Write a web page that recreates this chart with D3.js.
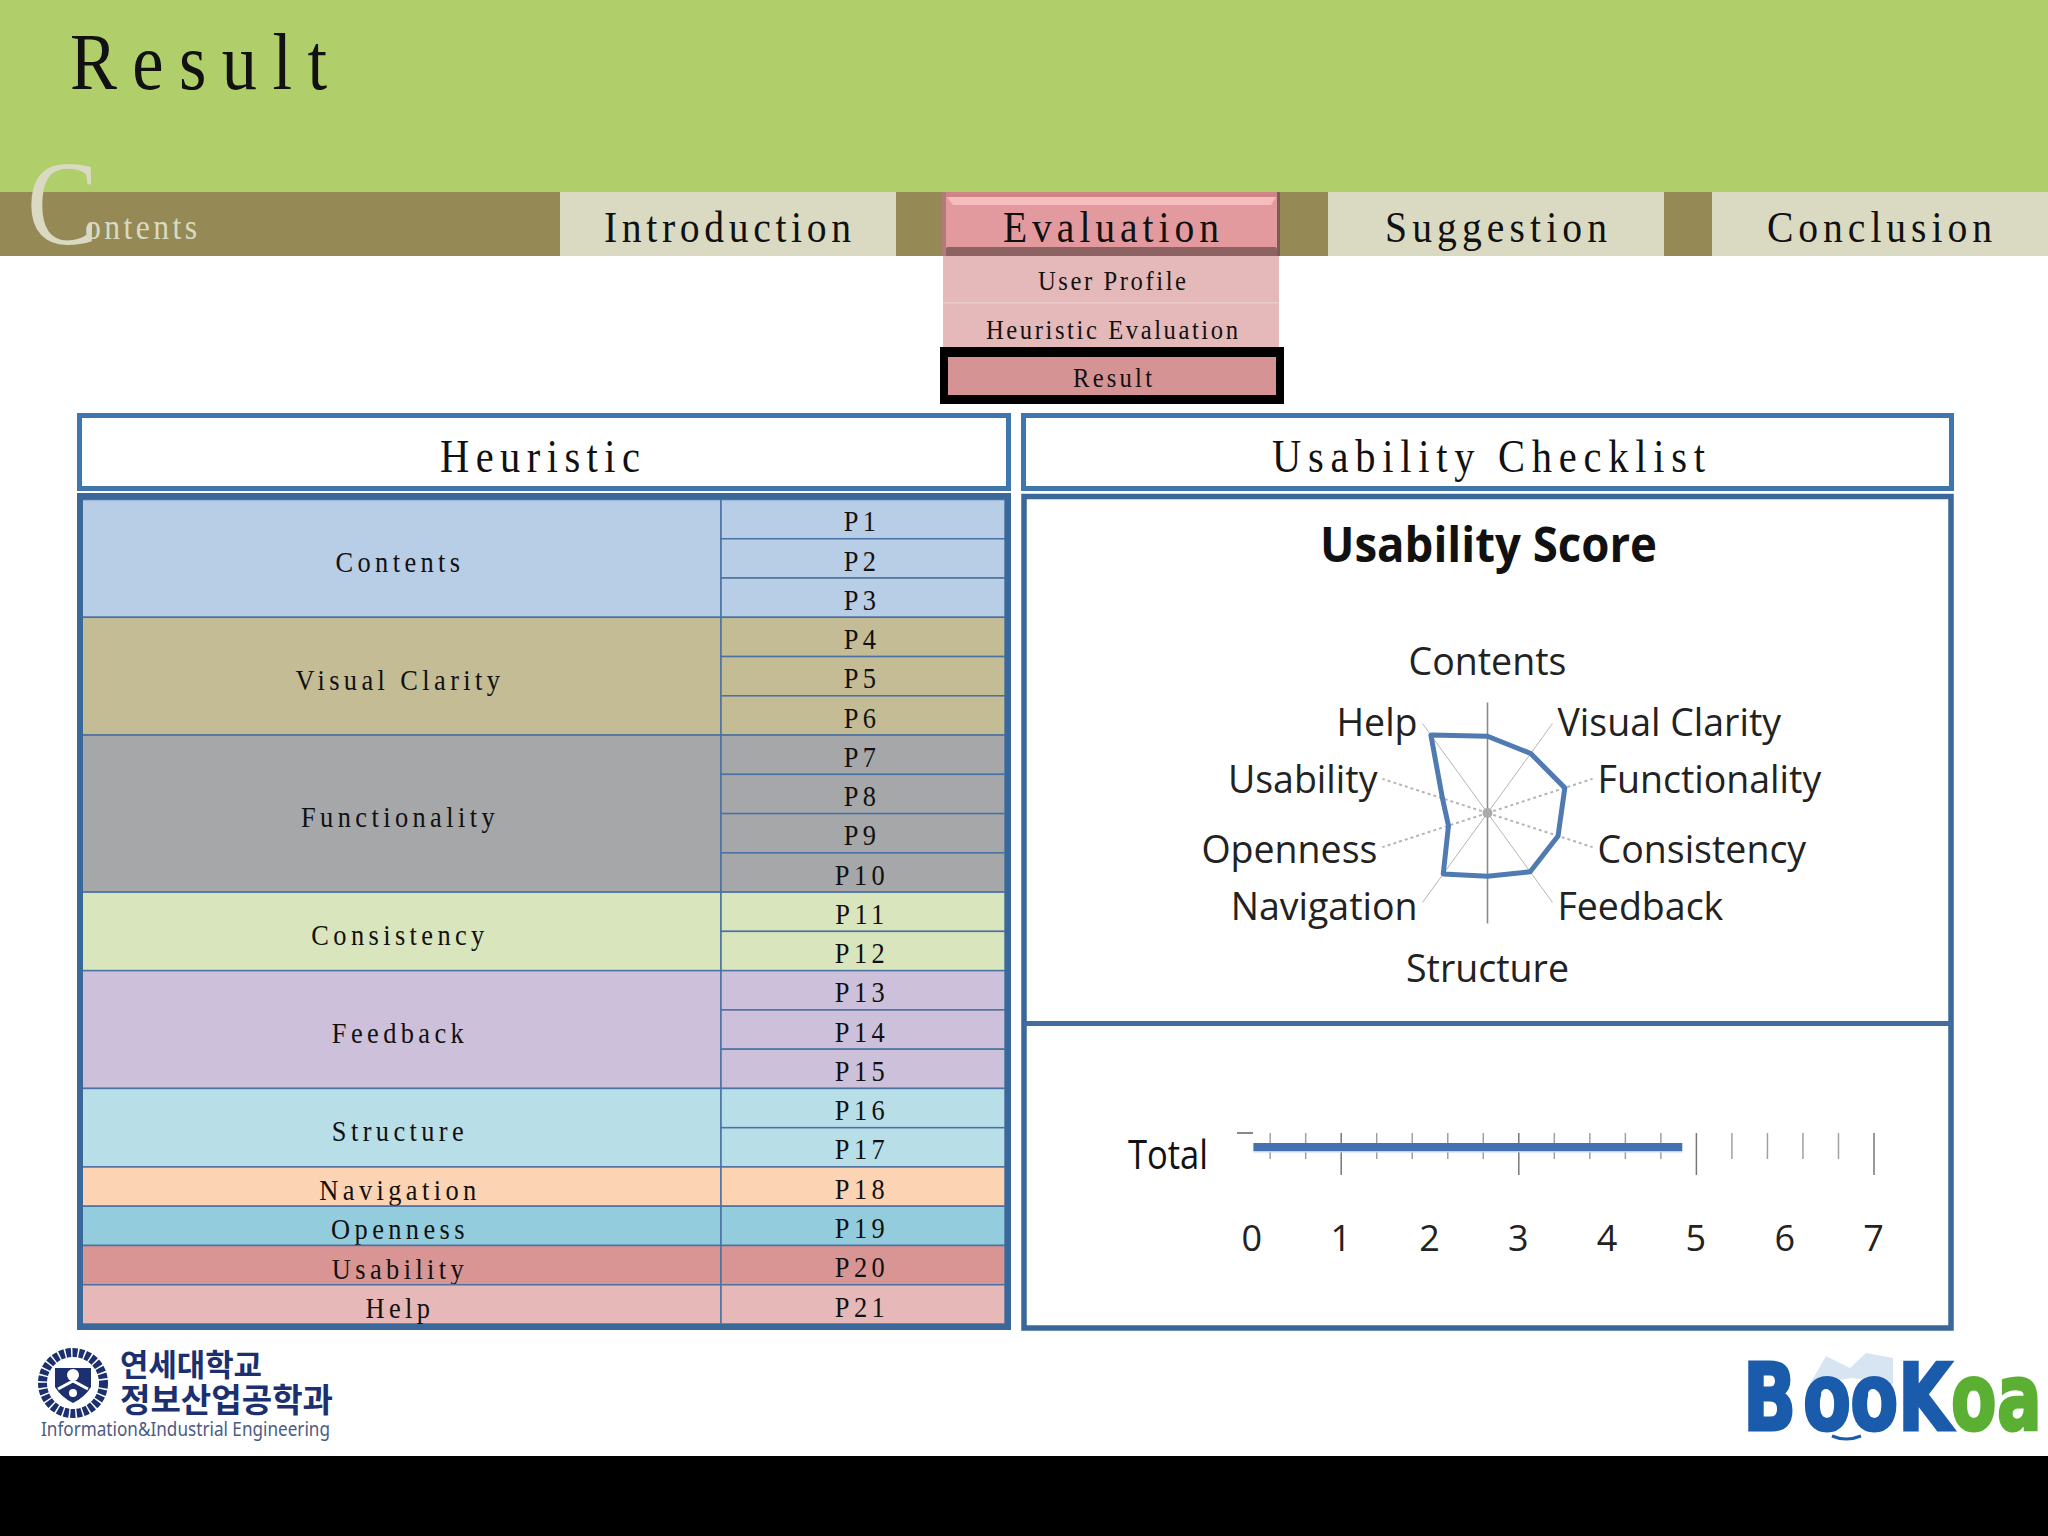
<!DOCTYPE html>
<html>
<head>
<meta charset="utf-8">
<script src="https://d3js.org/d3.v7.min.js"></script>
<style>
  body { margin: 0; background: #fff; }
  svg { display: block; }
</style>
</head>
<body>
<svg id="slide" width="2048" height="1536"></svg>
<script>
// heuristic table
var groupNames = ["Contents", "Visual Clarity", "Functionality", "Consistency", "Feedback", "Structure", "Navigation", "Openness", "Usability", "Help"];
var groupCounts = [3, 3, 4, 2, 3, 2, 1, 1, 1, 1];
var groupColors = ["#b8cde6", "#c4bc95", "#a6a7a9", "#d9e5bd", "#ccc0da", "#b8dee8", "#fcd4b4", "#93cddd", "#d99594", "#e6b8b7"];
var rowLabels = ["P1", "P2", "P3", "P4", "P5", "P6", "P7", "P8", "P9", "P10", "P11", "P12", "P13", "P14", "P15", "P16", "P17", "P18", "P19", "P20", "P21"];

// radar chart, same order as groupNames
var radarValues = [4.86, 4.66, 5.15, 4.7, 4.6, 4.0, 4.77, 2.6, 3.0, 6.1];
var radarMax = 7;

// bar chart
var barLabel = "Total";
var barValue = 4.83;
var barTicks = [0, 1, 2, 3, 4, 5, 6, 7];
var minorTicks = [0.2, 0.6, 1.4, 1.8, 2.2, 2.6, 3.4, 3.8, 4.2, 4.6, 5.4, 5.8, 6.2, 6.6];
var majorTicks = [1, 3, 5, 7];

var SERIF = "'Liberation Serif', serif";
var SANS = "'Open Sans', sans-serif";
var NARROW = 0.88; // the slide font is a narrow garamond, liberation gets squeezed
var svg = d3.select("#slide");

// narrow serif text, letter gaps opened up to fill the extent
function fit(parent, text, x0, x1, base, size, fill) {
  return parent.append("text")
    .attr("transform", "translate(" + x0 + "," + base + ") scale(" + NARROW + ",1)")
    .attr("textLength", (x1 - x0) / NARROW).attr("lengthAdjust", "spacing")
    .attr("font-family", SERIF).attr("font-size", size)
    .attr("fill", fill || "#111")
    .text(text);
}

// sans text squeezed into a known extent
function fitSans(parent, text, x0, x1, base, size, fill, family) {
  return parent.append("text")
    .attr("x", x0).attr("y", base)
    .attr("textLength", x1 - x0).attr("lengthAdjust", "spacingAndGlyphs")
    .attr("font-family", family || SANS).attr("font-size", size)
    .attr("fill", fill || "#111")
    .text(text);
}

function box(x, y, w, h, fill) {
  return svg.append("rect").attr("x", x).attr("y", y).attr("width", w).attr("height", h).attr("fill", fill);
}

/* ---------- header ---------- */
box(0, 0, 2048, 192, "#b0cf6b");
box(0, 192, 2048, 64, "#958a56");
fit(svg, "Result", 70, 327, 89, 80);
fit(svg, "ontents", 85, 197, 239, 36, "#dadac3");
fitSans(svg, "C", 27, 98, 244, 120, "#dadac3", SERIF);

box(560, 192, 336, 64, "#dadac3");
box(1328, 192, 336, 64, "#dadac3");
box(1712, 192, 336, 64, "#dadac3");
fit(svg, "Introduction", 604, 851, 242, 45);
fit(svg, "Suggestion", 1385, 1607, 242, 45);
fit(svg, "Conclusion", 1767, 1992, 242, 45);

// bevelled active tab
box(942, 192, 338, 64, "#e39a9e");
box(942, 192, 338, 5, "#cf8587");
svg.append("polygon").attr("points", "947,197 1276,197 1271,205 953,205").attr("fill", "#f6bcbe");
svg.append("polygon").attr("points", "942,256 1280,256 1276,247 947,247").attr("fill", "#8d6262");
box(942, 192, 4, 64, "#b37a7c");
box(1277, 192, 3, 64, "#7a5c50");
fit(svg, "Evaluation", 1003, 1219, 242, 45);

// sub menu
box(943, 256, 336, 91, "#e5b9b9");
box(943, 302, 336, 1.5, "#edcaca");
fit(svg, "User Profile", 1038, 1186, 290, 28);
fit(svg, "Heuristic Evaluation", 986, 1238, 339, 28);
box(940, 347, 344, 57, "#000");
box(948, 357, 328, 38, "#d59393");
fit(svg, "Result", 1073, 1152, 387, 28);

/* ---------- panel headers ---------- */
[[79.5, 929], [1023.5, 928]].forEach(function (p) {
  svg.append("rect").attr("x", p[0]).attr("y", 415.5).attr("width", p[1]).attr("height", 73)
    .attr("fill", "#fff").attr("stroke", "#3f76ac").attr("stroke-width", 5);
});
fit(svg, "Heuristic", 440, 640, 472, 46);
fit(svg, "Usability Checklist", 1272, 1705, 472, 46);

/* ---------- heuristic table ---------- */
var y = d3.scaleBand().domain(rowLabels).range([499.5, 1324]);
var LEFT = 82, SPLIT = 721, RIGHT = 1005;
var table = svg.append("g");

var start = 0;
var groups = groupNames.map(function (name, i) {
  var g = { name: name, color: groupColors[i], first: rowLabels[start], last: rowLabels[start + groupCounts[i] - 1], from: start };
  start += groupCounts[i];
  return g;
});
var rowColor = rowLabels.map(function (d, i) {
  return groups.filter(function (g, k) { return g.from <= i && i < g.from + groupCounts[k]; })[0].color;
});

var groupCells = table.selectAll("g.group").data(groups).enter().append("g").attr("class", "group");
groupCells.append("rect")
  .attr("x", LEFT).attr("width", SPLIT - LEFT)
  .attr("y", function (d) { return y(d.first); })
  .attr("height", function (d) { return y(d.last) + y.bandwidth() - y(d.first); })
  .attr("fill", function (d) { return d.color; })
  .attr("stroke", "#4a72a2").attr("stroke-width", 1.5);
groupCells.append("text")
  .attr("transform", function (d) {
    return "translate(400," + ((y(d.first) + y(d.last) + y.bandwidth()) / 2 + 13.5) + ") scale(" + NARROW + ",1)";
  })
  .attr("text-anchor", "middle")
  .attr("font-family", SERIF).attr("font-size", 30).attr("letter-spacing", 5).attr("fill", "#111")
  .text(function (d) { return d.name; });

var rows = table.selectAll("g.row").data(rowLabels).enter().append("g").attr("class", "row");
rows.append("rect")
  .attr("x", SPLIT).attr("width", RIGHT - SPLIT)
  .attr("y", function (d) { return y(d); })
  .attr("height", y.bandwidth())
  .attr("fill", function (d, i) { return rowColor[i]; })
  .attr("stroke", "#4a72a2").attr("stroke-width", 1.5);
rows.append("text")
  .attr("transform", function (d) {
    return "translate(862," + (y(d) + y.bandwidth() - 7.5) + ") scale(" + NARROW + ",1)";
  })
  .attr("text-anchor", "middle")
  .attr("font-family", SERIF).attr("font-size", 30).attr("letter-spacing", 5).attr("fill", "#111")
  .text(function (d) { return d; });

svg.append("rect").attr("x", 80).attr("y", 496).attr("width", 928).attr("height", 831)
  .attr("fill", "none").attr("stroke", "#3a6898").attr("stroke-width", 6);

/* ---------- right frames ---------- */
svg.append("rect").attr("x", 1024).attr("y", 496.5).attr("width", 927).attr("height", 831.5)
  .attr("fill", "#fff").attr("stroke", "#3a6898").attr("stroke-width", 5.5);
svg.append("line").attr("x1", 1024).attr("x2", 1951).attr("y1", 1023.5).attr("y2", 1023.5)
  .attr("stroke", "#3f6f9f").attr("stroke-width", 5);

/* ---------- radar ---------- */
fitSans(svg, "Usability Score", 1320, 1657, 562, 48).attr("font-weight", 700);

var cx = 1487.5, cy = 813;
var r = d3.scaleLinear().domain([0, radarMax]).range([0, 110.5]);
var angle = d3.scalePoint().domain(groupNames).range([0, 2 * Math.PI * 0.9]);
var radar = svg.append("g").attr("transform", "translate(" + cx + "," + cy + ")");

radar.selectAll("line.spoke").data(groupNames).enter().append("line")
  .attr("class", "spoke")
  .attr("x2", function (d) { return Math.sin(angle(d)) * r(radarMax); })
  .attr("y2", function (d) { return -Math.cos(angle(d)) * r(radarMax); })
  .attr("stroke", function (d, i) { return i % 5 === 0 ? "#8a8a8a" : "#b5b5b5"; })
  .attr("stroke-width", function (d, i) { return i % 5 === 0 ? 1.6 : (i % 5 === 1 || i % 5 === 4 ? 1 : 2); })
  .attr("stroke-dasharray", function (d, i) { return i % 5 === 2 || i % 5 === 3 ? "3,3" : null; });
radar.append("circle").attr("r", 5).attr("fill", "#aaa");

var radarLine = d3.lineRadial()
  .angle(function (d, i) { return angle(groupNames[i]); })
  .radius(function (d) { return r(d); })
  .curve(d3.curveLinearClosed);
radar.append("path").datum(radarValues)
  .attr("d", radarLine)
  .attr("fill", "none").attr("stroke", "#4f7ab2").attr("stroke-width", 5).attr("stroke-linejoin", "round");

radar.selectAll("text.cat").data(groupNames).enter().append("text")
  .attr("class", "cat")
  .attr("x", function (d) {
    var s = Math.sin(angle(d));
    if (Math.abs(s) < 0.01) return 0;
    return s * r(radarMax) + (s > 0 ? 5 : -5);
  })
  .attr("y", function (d, i) {
    if (i === 0) return -138;
    if (i === 5) return 169;
    return -Math.cos(angle(d)) * r(radarMax) + (i < 5 ? 12 + (i - 1) * 2 : 12 + (9 - i) * 2);
  })
  .attr("text-anchor", function (d) {
    var s = Math.sin(angle(d));
    return Math.abs(s) < 0.01 ? "middle" : (s > 0 ? "start" : "end");
  })
  .attr("font-family", SANS).attr("font-size", 37.5).attr("fill", "#222")
  .text(function (d) { return d; });

/* ---------- total bar ---------- */
var x = d3.scaleLinear().domain([0, 7]).range([1252.4, 1874]);
var bars = svg.append("g");

bars.selectAll("line.minor").data(minorTicks).enter().append("line")
  .attr("class", "minor")
  .attr("x1", x).attr("x2", x).attr("y1", 1133).attr("y2", 1159)
  .attr("stroke", "#a0a0a0").attr("stroke-width", 1.5);
bars.selectAll("line.major").data(majorTicks).enter().append("line")
  .attr("class", "major")
  .attr("x1", x).attr("x2", x).attr("y1", 1133).attr("y2", 1175)
  .attr("stroke", "#777").attr("stroke-width", 1.5);
bars.append("line").attr("x1", 1237).attr("x2", 1253).attr("y1", 1133).attr("y2", 1133)
  .attr("stroke", "#888").attr("stroke-width", 2);

bars.append("rect").attr("x", x(0) + 1).attr("y", 1143).attr("width", x(barValue) - x(0)).attr("height", 8)
  .attr("fill", "#4472b0");
bars.append("rect").attr("x", x(0) + 1).attr("y", 1151).attr("width", x(barValue) - x(0)).attr("height", 1.5)
  .attr("fill", "#c5d6ea");

fitSans(svg, barLabel, 1128, 1208, 1169, 40);

var axis = d3.axisBottom(x).tickValues(barTicks).tickFormat(d3.format("d")).tickSize(0).tickPadding(0);
var axisG = svg.append("g").attr("transform", "translate(-1,1225)").call(axis);
axisG.select(".domain").remove();
axisG.selectAll("text").attr("font-family", SANS).attr("font-size", 36).attr("fill", "#222");

/* ---------- yonsei logo ---------- */
var NAVY = "#1c2f6e";
var crest = svg.append("g").attr("transform", "translate(73,1383)");
crest.append("circle").attr("r", 30.5).attr("fill", "none").attr("stroke", NAVY).attr("stroke-width", 9).attr("stroke-dasharray", "5,1.5");
crest.append("circle").attr("r", 24).attr("fill", "#fff");
crest.append("path").attr("d", "M-18,-15 L18,-15 L18,4 Q12,14 0,20 Q-12,14 -18,4 Z").attr("fill", NAVY);
crest.append("circle").attr("cy", -8).attr("r", 6).attr("fill", "#fff");
crest.append("path").attr("d", "M-15,6 L0,-2 L15,6").attr("fill", "none").attr("stroke", "#fff").attr("stroke-width", 3);
crest.append("circle").attr("cy", 10).attr("r", 4).attr("fill", "#fff");

var KR = "'Noto Sans CJK KR', sans-serif";
fitSans(svg, "연세대학교", 120, 262, 1376, 31, NAVY, KR).attr("font-weight", 700);
fitSans(svg, "정보산업공학과", 120, 333, 1412, 33, NAVY, KR).attr("font-weight", 700);
fitSans(svg, "Information&Industrial Engineering", 41, 330, 1436, 19, "#4c5a86", "'Noto Sans', sans-serif");

/* ---------- bookoa logo ---------- */
svg.append("polygon").attr("points", "1810,1384 1826,1356 1850,1368 1866,1353 1893,1358 1893,1384 1852,1378")
  .attr("fill", "#d7e4f2");
var BLUE = "#1a5cab", GREEN = "#5bb033", DJ = "'DejaVu Sans', sans-serif";
svg.append("text")
  .attr("transform", "translate(1743,1430) scale(0.76,1)")
  .attr("x", "0 79 141 204").attr("font-family", DJ).attr("font-weight", 700).attr("font-size", 92)
  .attr("fill", BLUE).attr("stroke", BLUE).attr("stroke-width", 3)
  .text("BooK");
svg.append("text")
  .attr("transform", "translate(1951,1430) scale(0.72,1)")
  .attr("x", "0 64").attr("font-family", DJ).attr("font-weight", 700).attr("font-size", 92)
  .attr("fill", GREEN).attr("stroke", GREEN).attr("stroke-width", 3)
  .text("oa");
svg.append("circle").attr("cx", 1826).attr("cy", 1394).attr("r", 5).attr("fill", "#fff");
svg.append("circle").attr("cx", 1873).attr("cy", 1394).attr("r", 5).attr("fill", "#fff");
svg.append("path").attr("d", "M1832,1436 Q1846,1442 1861,1436").attr("fill", "none").attr("stroke", BLUE).attr("stroke-width", 3);

/* ---------- black strip ---------- */
box(0, 1456, 2048, 80, "#000");
</script>
</body>
</html>
